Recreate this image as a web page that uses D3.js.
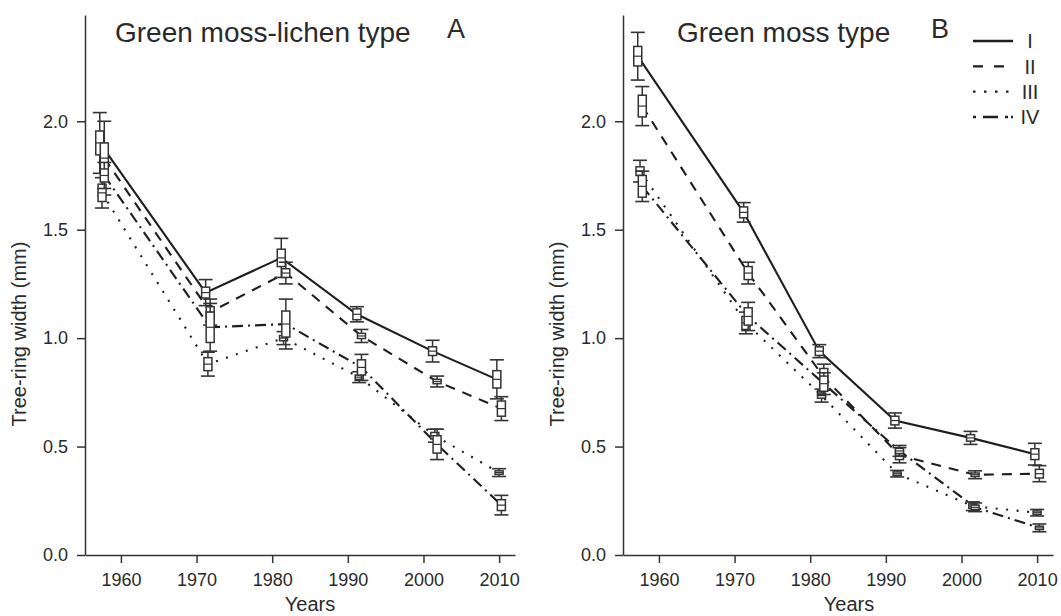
<!DOCTYPE html>
<html>
<head>
<meta charset="utf-8">
<script src="https://cdn.jsdelivr.net/npm/d3@7"></script>
<style>
  html, body { margin: 0; padding: 0; background: #fff; }
  svg { display: block; }
  text { font-family: "Liberation Sans", Arial, Helvetica, sans-serif; fill: #2a2a2a; }
</style>
</head>
<body>
<svg id="chart" width="1061" height="616"></svg>
<script>
// ---------- data ----------
const years = [1957.5, 1971.5, 1981.5, 1991.5, 2001.5, 2010];
const seriesNames = ["I", "II", "III", "IV"];
const xTicks = [1960, 1970, 1980, 1990, 2000, 2010];
const yTicks = [0, 0.5, 1.0, 1.5, 2.0];
const panelTitles = ["Green moss-lichen type", "Green moss type"];
const panelLetters = ["A", "B"];
const xLabel = "Years";
const yLabel = "Tree-ring width (mm)";

// Panel A (Green moss-lichen type): mean, box half-height, whisker half-height
const meanA_I   = [1.90, 1.21, 1.37, 1.11, 0.94, 0.81];
const boxA_I    = [0.055, 0.025, 0.04, 0.025, 0.02, 0.04];
const whiskA_I  = [0.14, 0.06, 0.09, 0.035, 0.05, 0.09];
const meanA_II  = [1.83, 1.12, 1.30, 1.01, 0.80, 0.675];
const boxA_II   = [0.07, 0.025, 0.02, 0.012, 0.01, 0.035];
const whiskA_II = [0.17, 0.06, 0.05, 0.03, 0.025, 0.055];
const meanA_III = [1.67, 0.88, 1.00, 0.82, 0.55, 0.38];
const boxA_III  = [0.04, 0.03, 0.012, 0.01, 0.015, 0.008];
const whiskA_III= [0.07, 0.055, 0.03, 0.025, 0.03, 0.018];
const meanA_IV  = [1.75, 1.05, 1.065, 0.865, 0.51, 0.23];
const boxA_IV   = [0.03, 0.07, 0.06, 0.035, 0.04, 0.025];
const whiskA_IV = [0.06, 0.11, 0.115, 0.06, 0.07, 0.045];

// Panel B (Green moss type)
const meanB_I   = [2.30, 1.58, 0.94, 0.62, 0.54, 0.465];
const boxB_I    = [0.045, 0.025, 0.02, 0.02, 0.015, 0.025];
const whiskB_I  = [0.11, 0.045, 0.03, 0.035, 0.03, 0.05];
const meanB_II  = [2.07, 1.30, 0.82, 0.46, 0.37, 0.375];
const boxB_II   = [0.05, 0.03, 0.04, 0.02, 0.008, 0.02];
const whiskB_II = [0.09, 0.05, 0.06, 0.035, 0.018, 0.037];
const meanB_III = [1.77, 1.07, 0.735, 0.375, 0.225, 0.195];
const boxB_III  = [0.02, 0.03, 0.012, 0.008, 0.01, 0.008];
const whiskB_III= [0.05, 0.05, 0.03, 0.015, 0.02, 0.015];
const meanB_IV  = [1.70, 1.10, 0.79, 0.48, 0.22, 0.125];
const boxB_IV   = [0.05, 0.04, 0.035, 0.012, 0.01, 0.008];
const whiskB_IV = [0.07, 0.065, 0.05, 0.025, 0.02, 0.018];

// ---------- build ----------
function build(means, boxes, whisks) {
  return seriesNames.map((name, si) => ({
    name,
    si,
    pts: years.map((yr, i) => ({ year: yr, mean: means[si][i], box: boxes[si][i], whisk: whisks[si][i] }))
  }));
}
const panels = [
  build([meanA_I, meanA_II, meanA_III, meanA_IV], [boxA_I, boxA_II, boxA_III, boxA_IV], [whiskA_I, whiskA_II, whiskA_III, whiskA_IV]),
  build([meanB_I, meanB_II, meanB_III, meanB_IV], [boxB_I, boxB_II, boxB_III, boxB_IV], [whiskB_I, whiskB_II, whiskB_III, whiskB_IV])
];

const svg = d3.select("#chart");
const ink = "#1e1e1e";
const dashes = ["none", "10,8", "2,8.5", "11,5,2,5"];
const dodge = [-0.3, 0.3, 0.0, 0.3];
const layout = [
  { x0: 85, x1: 515, yLabX: 19, titleX: 115, letterX: 447, xLabX: 310 },
  { x0: 623, x1: 1053, yLabX: 557, titleX: 677, letterX: 931, xLabX: 849 }
];

const y = d3.scaleLinear().domain([0, 2.49]).range([555, 15]);

panels.forEach((series, p) => {
  const L = layout[p];
  const x = d3.scaleLinear().domain([1955.25, 2012.1]).range([L.x0, L.x1]);
  const g = svg.append("g");

  // axes
  const yAx = g.append("g").attr("transform", `translate(${L.x0},0)`)
    .call(d3.axisLeft(y).tickValues(yTicks).tickFormat(d3.format(".1f")).tickSize(8).tickSizeOuter(0).tickPadding(9));
  const xAx = g.append("g").attr("transform", `translate(0,${y(0)})`)
    .call(d3.axisBottom(x).tickValues(xTicks).tickFormat(d3.format("d")).tickSize(8).tickSizeOuter(0).tickPadding(10));
  [yAx, xAx].forEach(a => {
    a.selectAll("path, line").attr("stroke", "#333").attr("stroke-width", 1.5);
    a.selectAll("text").style("font-size", "18px").attr("fill", "#2a2a2a");
  });

  // axis labels
  g.append("text")
    .attr("transform", `translate(${L.yLabX},334) rotate(-90)`)
    .attr("text-anchor", "middle").attr("dy", "0.35em")
    .style("font-size", "20px").text(yLabel);
  g.append("text").attr("x", L.xLabX).attr("y", 611)
    .attr("text-anchor", "middle").style("font-size", "20px").text(xLabel);

  // title + letter
  g.append("text").attr("x", L.titleX).attr("y", 41.5)
    .style("font-size", "28px").text(panelTitles[p]);
  g.append("text").attr("x", L.letterX).attr("y", 37.5)
    .style("font-size", "27px").text(panelLetters[p]);

  const px = (s, d) => x(d.year + dodge[s.si]);

  // lines
  const line = d3.line().x(d => d.px).y(d => y(d.mean));
  series.forEach(s => {
    s.pts.forEach(d => d.px = px(s, d));
    g.append("path").datum(s.pts)
      .attr("d", line).attr("fill", "none")
      .attr("stroke", ink).attr("stroke-width", 2.1)
      .attr("stroke-dasharray", dashes[s.si]);
  });

  // box + whisker marks
  series.forEach(s => {
    const mg = g.append("g");
    const items = mg.selectAll("g.pt").data(s.pts).enter().append("g");
    items.append("line")
      .attr("x1", d => d.px).attr("x2", d => d.px)
      .attr("y1", d => y(d.mean + d.whisk)).attr("y2", d => y(d.mean - d.whisk))
      .attr("stroke", "#333").attr("stroke-width", 1.5);
    items.append("line")
      .attr("x1", d => d.px - 7).attr("x2", d => d.px + 7)
      .attr("y1", d => y(d.mean + d.whisk)).attr("y2", d => y(d.mean + d.whisk))
      .attr("stroke", "#333").attr("stroke-width", 1.6);
    items.append("line")
      .attr("x1", d => d.px - 7).attr("x2", d => d.px + 7)
      .attr("y1", d => y(d.mean - d.whisk)).attr("y2", d => y(d.mean - d.whisk))
      .attr("stroke", "#333").attr("stroke-width", 1.6);
    items.append("rect")
      .attr("x", d => d.px - 4).attr("width", 8)
      .attr("y", d => y(d.mean + d.box)).attr("height", d => y(d.mean - d.box) - y(d.mean + d.box))
      .attr("fill", "#fff").attr("stroke", "#333").attr("stroke-width", 1.5);
    items.append("line")
      .attr("x1", d => d.px - 4).attr("x2", d => d.px + 4)
      .attr("y1", d => y(d.mean)).attr("y2", d => y(d.mean))
      .attr("stroke", "#333").attr("stroke-width", 1.2);
  });

  // legend (panel B only)
  if (p === 1) {
    const lg = g.append("g");
    const ly = d3.scalePoint().domain(seriesNames).range([41, 117]);
    seriesNames.forEach((n, si) => {
      lg.append("line").attr("x1", 973).attr("x2", 1013)
        .attr("y1", ly(n)).attr("y2", ly(n))
        .attr("stroke", ink).attr("stroke-width", 2.4)
        .attr("stroke-dasharray", si === 0 ? "none" : si === 1 ? "10,11" : si === 2 ? "2.5,8.5" : "3,7,15,7,3");
      lg.append("text").attr("x", 1030).attr("y", ly(n)).attr("dy", "0.36em")
        .attr("text-anchor", "middle").style("font-size", "20px").text(n);
    });
  }
});
</script>
</body>
</html>
